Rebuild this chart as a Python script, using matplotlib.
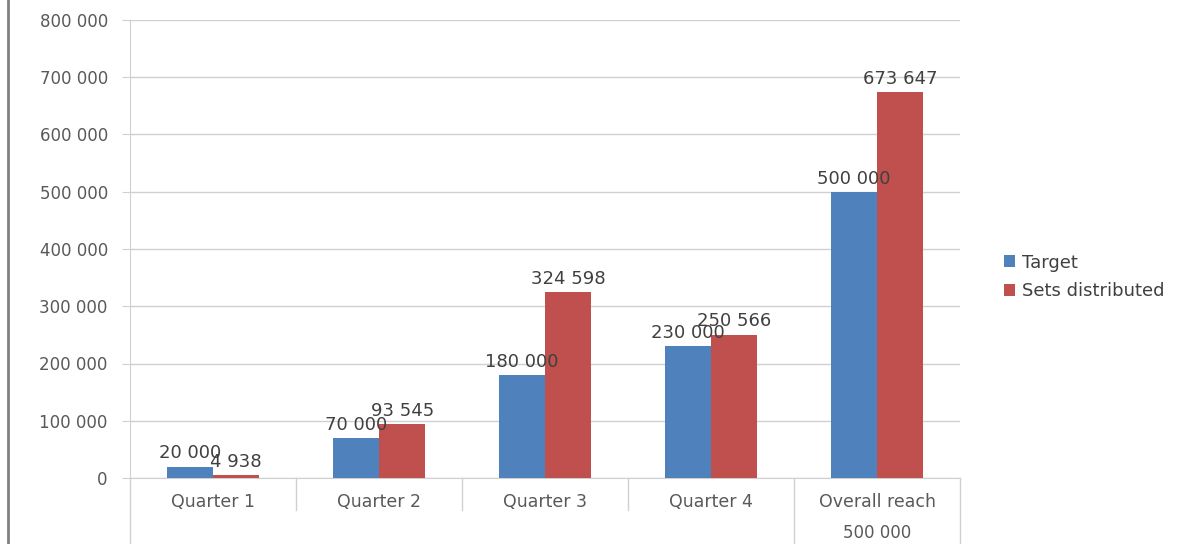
import matplotlib
matplotlib.use("Agg")
import matplotlib.pyplot as plt
import numpy as np
from matplotlib.lines import Line2D
import matplotlib.transforms as mtransforms

categories = ["Quarter 1", "Quarter 2", "Quarter 3", "Quarter 4", "Overall reach"]
target = [20000, 70000, 180000, 230000, 500000]
distributed = [4938, 93545, 324598, 250566, 673647]
series_names = ["Target", "Sets distributed"]
y_ticks = [0, 100000, 200000, 300000, 400000, 500000, 600000, 700000, 800000]
extra_row_label = "500 000"

def fmt(v):
    return f"{v:,}".replace(",", " ")

W, H = 1195, 544
fig = plt.figure(figsize=(W / 100, H / 100), dpi=100)
left, right, top, bottom = 130, 960, 20, 478
ax = fig.add_axes([left / W, 1 - bottom / H, (right - left) / W, (bottom - top) / H])

blue = "#4F81BD"
red = "#C0504D"
grid_c = "#D0D0D0"
txt_c = "#595959"

x = np.arange(len(categories))
bw = 0.28
b1 = ax.bar(x - bw / 2, target, bw, color=blue, label=series_names[0], zorder=3)
b2 = ax.bar(x + bw / 2, distributed, bw, color=red, label=series_names[1], zorder=3)

for bars, vals in ((b1, target), (b2, distributed)):
    for rect, v in zip(bars, vals):
        ax.annotate(fmt(v), (rect.get_x() + rect.get_width() / 2, v),
                    xytext=(0, 3), textcoords="offset points",
                    ha="center", va="bottom", fontsize=13, color="#404040", zorder=4)

ax.set_xlim(-0.5, len(categories) - 0.5)
ax.set_ylim(0, 800000)
ax.set_yticks(y_ticks)
ax.set_yticklabels([fmt(v) for v in y_ticks])
ax.yaxis.grid(True, color=grid_c, linewidth=1, zorder=0)
ax.tick_params(axis="y", length=6, color=grid_c, pad=10, labelsize=12, labelcolor=txt_c)
ax.set_xticks(x)
ax.set_xticklabels(categories)
ax.tick_params(axis="x", length=0, pad=11, labelsize=12.5, labelcolor=txt_c)
for s in ("top", "right"):
    ax.spines[s].set_visible(False)
ax.spines["left"].set_color(grid_c)
ax.spines["bottom"].set_color(grid_c)

# table-like separators below the axis
trans = mtransforms.blended_transform_factory(ax.transData, ax.transAxes)
for k in range(1, len(categories) + 1):
    xb = k - 0.5
    ybot = -0.07 if k < len(categories) - 1 else -0.16
    ax.add_line(Line2D([xb, xb], [0, ybot], transform=trans, color=grid_c,
                       linewidth=1, clip_on=False))
ax.add_line(Line2D([-0.5, -0.5], [0, -0.16], transform=trans, color=grid_c,
                   linewidth=1, clip_on=False))
ax.text(len(categories) - 1, -0.12, extra_row_label, transform=trans,
        ha="center", va="center", fontsize=12, color=txt_c)

# left frame line
fig.add_artist(Line2D([8 / W, 8 / W], [0, 1], transform=fig.transFigure,
                      color="#808080", linewidth=2))

leg = fig.legend(handles=[b1, b2], loc="center left", bbox_to_anchor=(988 / W, 1 - 277 / H),
                 frameon=False, fontsize=13, handlelength=0.6, handleheight=0.6,
                 handletextpad=0.4, labelspacing=0.6)
for t in leg.get_texts():
    t.set_color("#404040")

fig.savefig("out.png", dpi=100)
